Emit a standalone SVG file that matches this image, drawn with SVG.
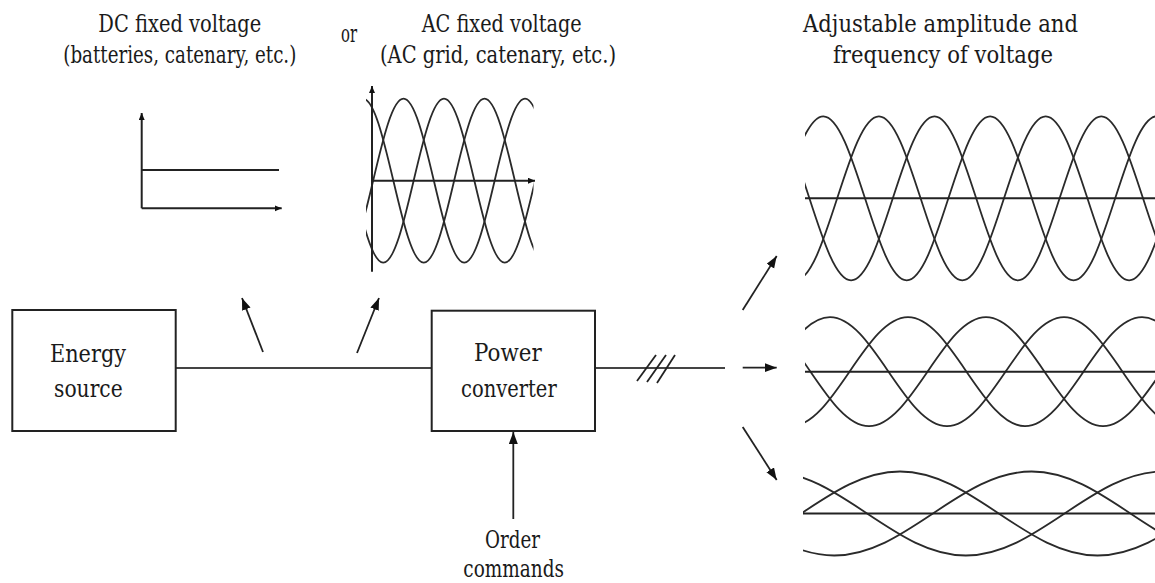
<svg xmlns="http://www.w3.org/2000/svg" xmlns:xlink="http://www.w3.org/1999/xlink" width="1155" height="583" viewBox="0 0 1155 583">
<style>
  text { font-family: "DejaVu Serif", "Liberation Serif", serif; font-size: 24px; fill: #1a1a1a; }
  .box { fill: #fff; stroke: #222; stroke-width: 2; }
  .conn { fill: none; stroke: #444; stroke-width: 2; }
  .arr { fill: none; stroke: #222; stroke-width: 1.8; }
  .axis { fill: none; stroke: #222; stroke-width: 2; }
  .wave { fill: none; stroke: #2a2a2a; stroke-width: 1.8; }
</style>
<defs>
  <marker id="ah" markerUnits="userSpaceOnUse" markerWidth="13" markerHeight="10" refX="12" refY="4.5" orient="auto">
    <path d="M0,0 L12,4.5 L0,9 z" fill="#111"/>
  </marker>
  <marker id="as" markerUnits="userSpaceOnUse" markerWidth="8" markerHeight="7" refX="7" refY="3" orient="auto">
    <path d="M0,0 L7,3 L0,6 z" fill="#111"/>
  </marker>
  <clipPath id="clipAC"><rect x="366" y="0" width="167.5" height="583"/></clipPath>
  <clipPath id="clipR1"><rect x="805" y="0" width="350" height="583"/></clipPath>
  <clipPath id="clipR3"><rect x="803" y="0" width="352" height="583"/></clipPath>
  <path id="waveAC" d="M251.625,180.7 c9.905,-42.01 19.383,-82 30.375,-82 c10.993,0 20.47,39.99 30.375,82 c9.905,42.01 19.383,82 30.375,82 c10.993,0 20.47,-39.99 30.375,-82 c9.905,-42.01 19.383,-82 30.375,-82 c10.993,0 20.47,39.99 30.375,82 c9.905,42.01 19.383,82 30.375,82 c10.993,0 20.47,-39.99 30.375,-82 c9.905,-42.01 19.383,-82 30.375,-82 c10.993,0 20.47,39.99 30.375,82 c9.905,42.01 19.383,82 30.375,82 c10.993,0 20.47,-39.99 30.375,-82"/>
  <path id="wave1" d="M614.8,198.3 c13.6,-42.01 26.61,-82 41.7,-82 c15.09,0 28.1,39.99 41.7,82 c13.6,42.01 26.61,82 41.7,82 c15.09,0 28.1,-39.99 41.7,-82 c13.6,-42.01 26.61,-82 41.7,-82 c15.09,0 28.1,39.99 41.7,82 c13.6,42.01 26.61,82 41.7,82 c15.09,0 28.1,-39.99 41.7,-82 c13.6,-42.01 26.61,-82 41.7,-82 c15.09,0 28.1,39.99 41.7,82 c13.6,42.01 26.61,82 41.7,82 c15.09,0 28.1,-39.99 41.7,-82 c13.6,-42.01 26.61,-82 41.7,-82 c15.09,0 28.1,39.99 41.7,82 c13.6,42.01 26.61,82 41.7,82 c15.09,0 28.1,-39.99 41.7,-82"/>
  <path id="wave2" d="M537.5,371.7 c19.08,-27.92 37.33,-54.5 58.5,-54.5 c21.17,0 39.42,26.58 58.5,54.5 c19.08,27.92 37.33,54.5 58.5,54.5 c21.17,0 39.42,-26.58 58.5,-54.5 c19.08,-27.92 37.33,-54.5 58.5,-54.5 c21.17,0 39.42,26.58 58.5,54.5 c19.08,27.92 37.33,54.5 58.5,54.5 c21.17,0 39.42,-26.58 58.5,-54.5 c19.08,-27.92 37.33,-54.5 58.5,-54.5 c21.17,0 39.42,26.58 58.5,54.5 c19.08,27.92 37.33,54.5 58.5,54.5 c21.17,0 39.42,-26.58 58.5,-54.5"/>
  <path id="wave3" d="M406.25,513.5 c32.2,-21.52 63.01,-42 98.75,-42 c35.74,0 66.55,20.48 98.75,42 c32.2,21.52 63.01,42 98.75,42 c35.74,0 66.55,-20.48 98.75,-42 c32.2,-21.52 63.01,-42 98.75,-42 c35.74,0 66.55,20.48 98.75,42 c32.2,21.52 63.01,42 98.75,42 c35.74,0 66.55,-20.48 98.75,-42"/>
</defs>

<rect width="1155" height="583" fill="#fff"/>

<!-- Top labels -->
<g id="label-dc">
  <text x="98.3" y="31.7" textLength="163" lengthAdjust="spacingAndGlyphs">DC fixed voltage</text>
  <text x="63.3" y="63.3" textLength="233" lengthAdjust="spacingAndGlyphs">(batteries, catenary, etc.)</text>
</g>
<g id="label-or">
  <text x="341" y="41.7" textLength="16" lengthAdjust="spacingAndGlyphs">or</text>
</g>
<g id="label-ac">
  <text x="421.7" y="31.7" textLength="160" lengthAdjust="spacingAndGlyphs">AC fixed voltage</text>
  <text x="380" y="63.3" textLength="236" lengthAdjust="spacingAndGlyphs">(AC grid, catenary, etc.)</text>
</g>
<g id="label-output">
  <text x="803" y="31.7" textLength="275" lengthAdjust="spacingAndGlyphs">Adjustable amplitude and</text>
  <text x="833" y="63.3" textLength="220" lengthAdjust="spacingAndGlyphs">frequency of voltage</text>
</g>

<!-- DC plot -->
<g id="dc-plot">
  <line class="axis" x1="141.7" y1="208.3" x2="141.7" y2="113" marker-end="url(#as)"/>
  <line class="axis" x1="141.7" y1="208.3" x2="281.7" y2="208.3" marker-end="url(#as)"/>
  <line class="axis" x1="142" y1="170" x2="279" y2="170"/>
</g>

<!-- AC plot -->
<g id="ac-plot">
  <g clip-path="url(#clipAC)">
    <use xlink:href="#waveAC" href="#waveAC" class="wave"/>
    <use xlink:href="#waveAC" href="#waveAC" class="wave" transform="translate(40.5,0)"/>
    <use xlink:href="#waveAC" href="#waveAC" class="wave" transform="translate(81,0)"/>
  </g>
  <line class="axis" x1="372" y1="271.7" x2="372" y2="86" marker-end="url(#as)"/>
  <line class="axis" x1="372" y1="180.7" x2="535" y2="180.7" marker-end="url(#as)"/>
</g>

<!-- Output waveforms -->
<g id="output-wave-1">
  <g clip-path="url(#clipR1)">
    <use xlink:href="#wave1" href="#wave1" class="wave"/>
    <use xlink:href="#wave1" href="#wave1" class="wave" transform="translate(55.6,0)"/>
    <use xlink:href="#wave1" href="#wave1" class="wave" transform="translate(111.2,0)"/>
  </g>
  <line class="axis" x1="805" y1="198.3" x2="1155" y2="198.3"/>
</g>
<g id="output-wave-2">
  <g clip-path="url(#clipR1)">
    <use xlink:href="#wave2" href="#wave2" class="wave"/>
    <use xlink:href="#wave2" href="#wave2" class="wave" transform="translate(78,0)"/>
    <use xlink:href="#wave2" href="#wave2" class="wave" transform="translate(156,0)"/>
  </g>
  <line class="axis" x1="805" y1="371.7" x2="1155" y2="371.7"/>
</g>
<g id="output-wave-3">
  <g clip-path="url(#clipR3)">
    <use xlink:href="#wave3" href="#wave3" class="wave"/>
    <use xlink:href="#wave3" href="#wave3" class="wave" transform="translate(131.67,0)"/>
    <use xlink:href="#wave3" href="#wave3" class="wave" transform="translate(263.33,0)"/>
  </g>
  <line class="axis" x1="803" y1="513.5" x2="1155" y2="513.5"/>
</g>

<!-- Connectors -->
<g id="connectors">
  <line class="conn" x1="176" y1="368" x2="431.5" y2="368"/>
  <line class="conn" x1="595" y1="368" x2="725" y2="368"/>
  <line class="arr" x1="637" y1="381" x2="656" y2="355"/>
  <line class="arr" x1="647" y1="382" x2="666" y2="355"/>
  <line class="arr" x1="657" y1="383" x2="675" y2="355"/>
  <line class="arr" x1="263" y1="352" x2="242" y2="298" marker-end="url(#ah)"/>
  <line class="arr" x1="357" y1="353" x2="379" y2="298" marker-end="url(#ah)"/>
  <line class="arr" x1="742.7" y1="310" x2="776.7" y2="256" marker-end="url(#ah)"/>
  <line class="arr" x1="742.7" y1="367.7" x2="776.7" y2="367.7" marker-end="url(#ah)"/>
  <line class="arr" x1="742.7" y1="427" x2="776.7" y2="480" marker-end="url(#ah)"/>
  <line class="arr" x1="513.3" y1="519" x2="513.3" y2="432" marker-end="url(#ah)"/>
</g>

<!-- Nodes -->
<g id="energy-source">
  <rect class="box" x="12.3" y="310" width="163.4" height="121"/>
  <text x="50" y="361.7" textLength="76" lengthAdjust="spacingAndGlyphs">Energy</text>
  <text x="54" y="397.3" textLength="68.7" lengthAdjust="spacingAndGlyphs">source</text>
</g>
<g id="power-converter">
  <rect class="box" x="431.7" y="310.7" width="163.3" height="120.3"/>
  <text x="474" y="360.7" textLength="67.7" lengthAdjust="spacingAndGlyphs">Power</text>
  <text x="461" y="397.3" textLength="95.7" lengthAdjust="spacingAndGlyphs">converter</text>
</g>
<g id="order-commands">
  <text x="485" y="548.3" textLength="55" lengthAdjust="spacingAndGlyphs">Order</text>
  <text x="463.3" y="576.7" textLength="100.7" lengthAdjust="spacingAndGlyphs">commands</text>
</g>
</svg>
